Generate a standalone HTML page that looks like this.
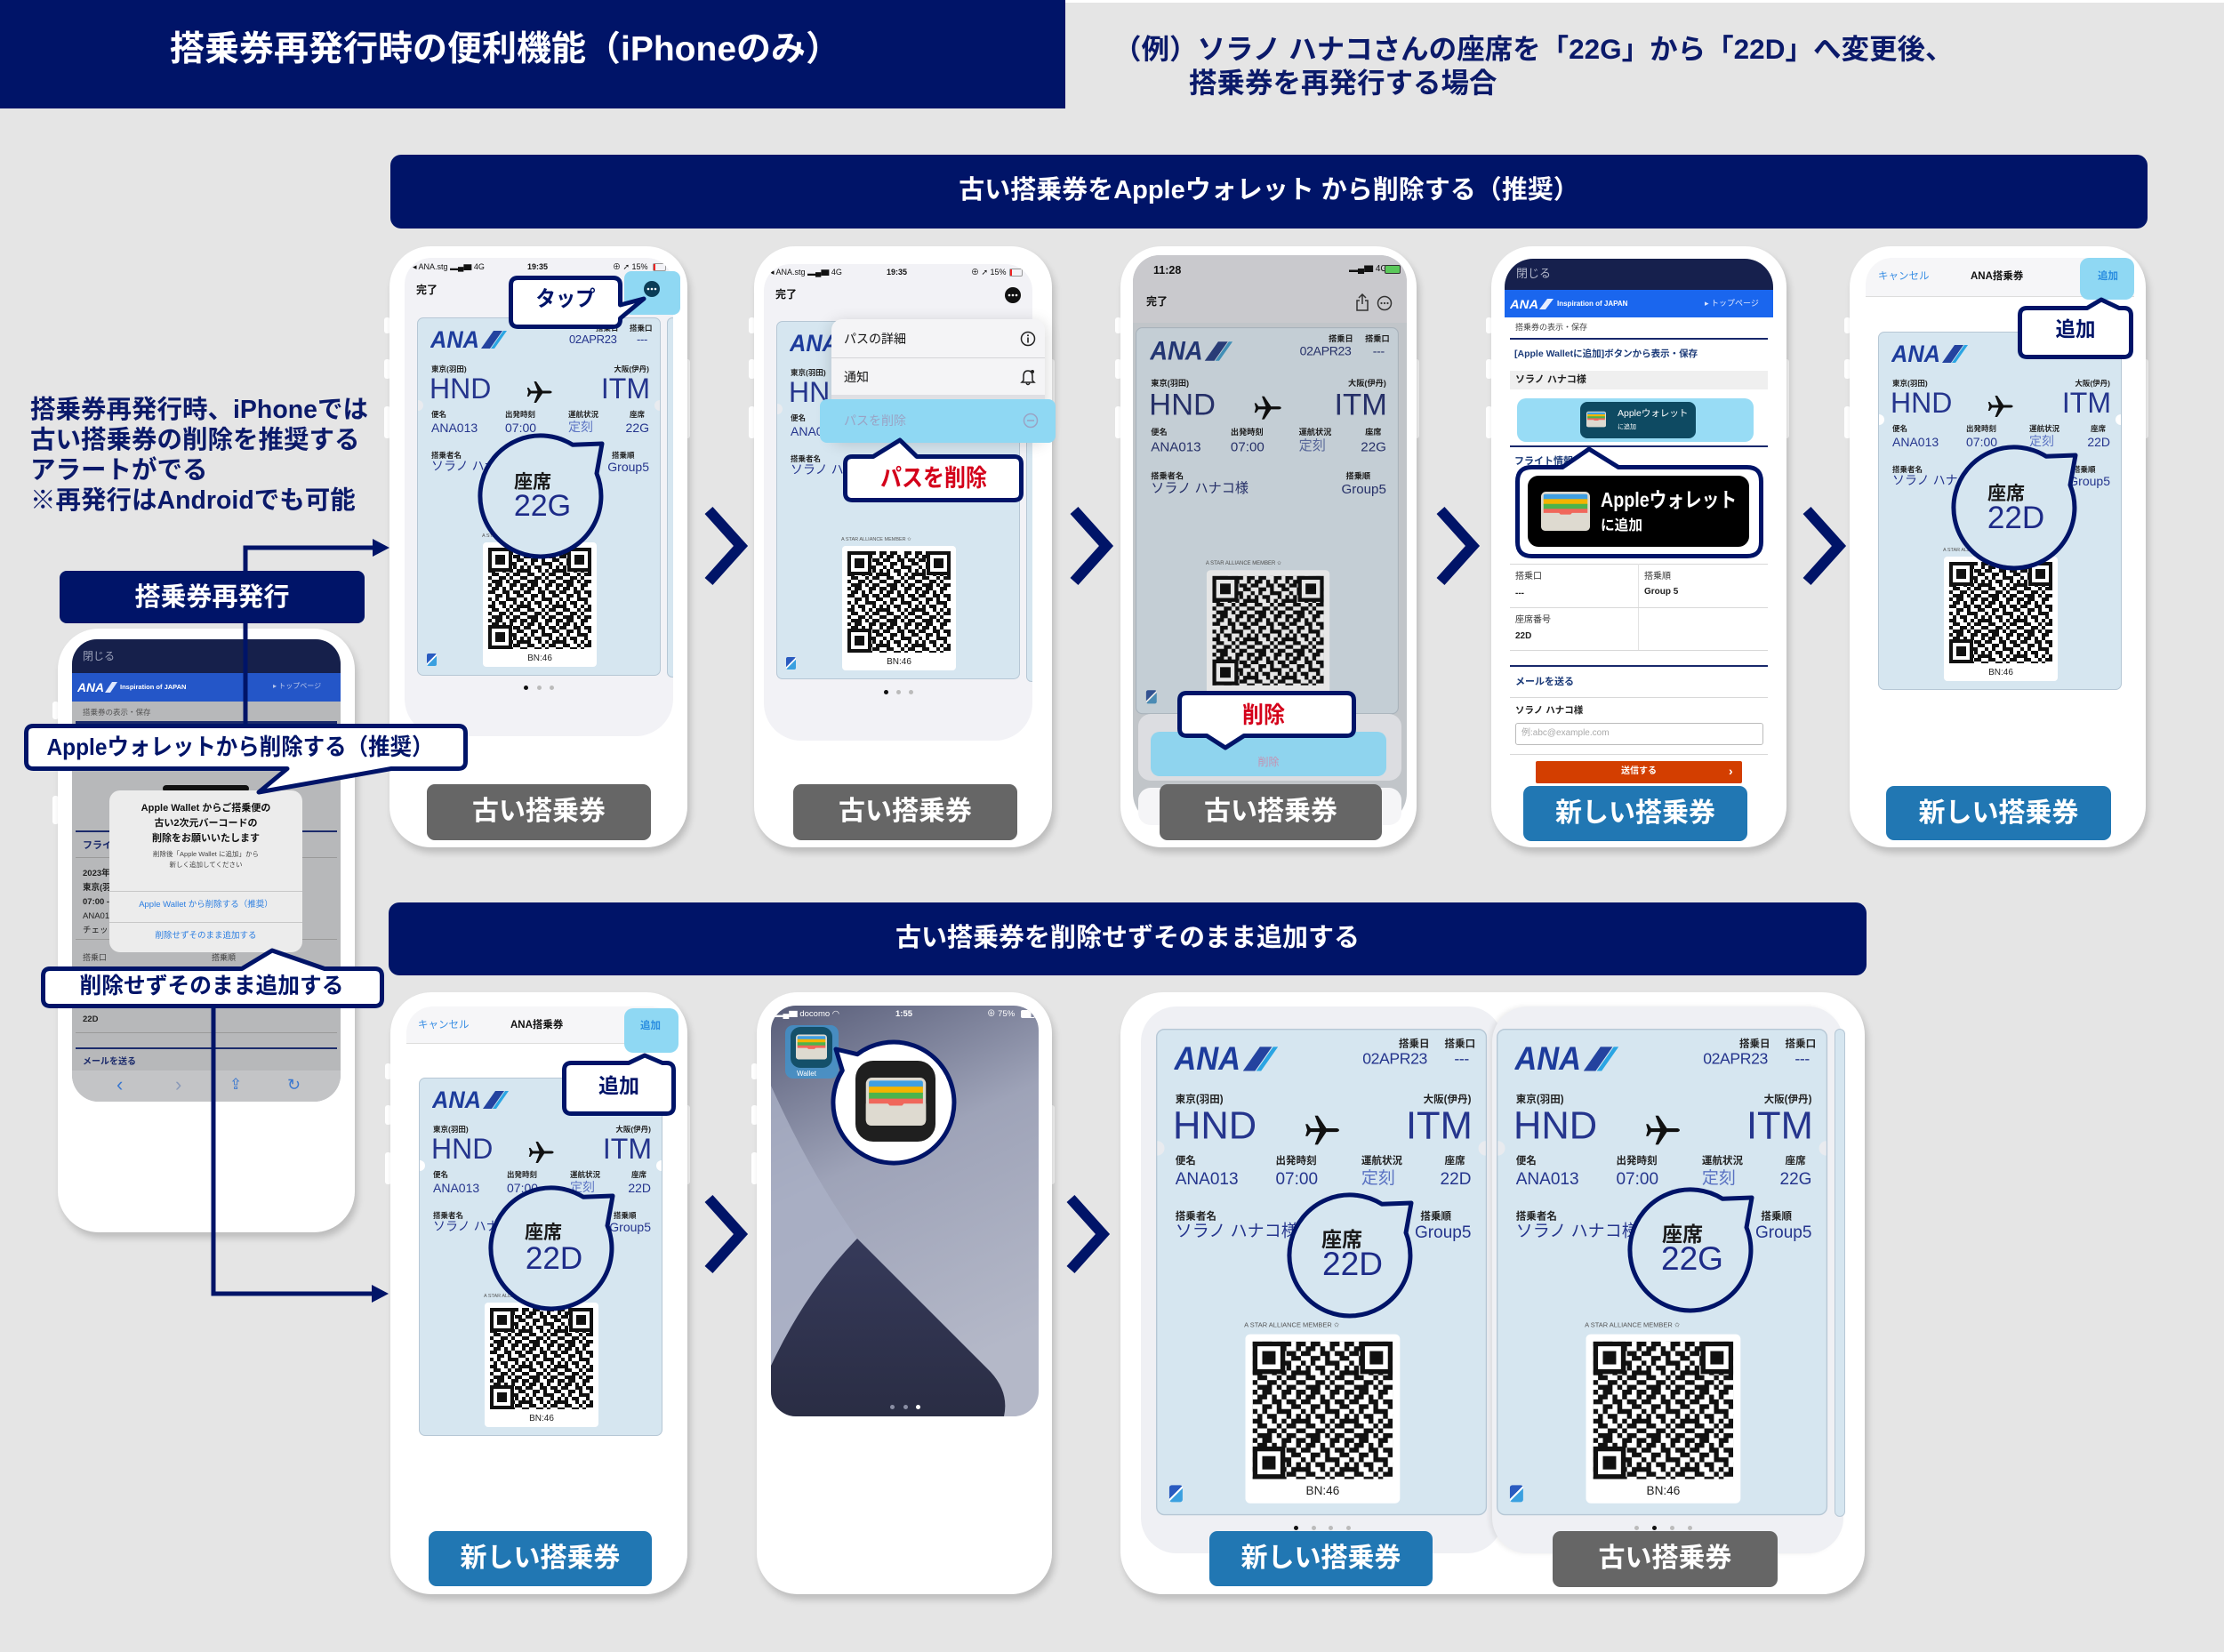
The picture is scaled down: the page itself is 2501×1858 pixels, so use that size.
<!DOCTYPE html>
<html><head><meta charset="utf-8"><style>
body{margin:0;background:#e5e5e5}
#r{position:relative;width:2501px;height:1858px;background:#e5e5e5;overflow:hidden;font-family:"Liberation Sans","Noto Sans CJK JP",sans-serif}
.a{position:absolute}
.t{position:absolute;white-space:nowrap;line-height:1}
.b{font-weight:bold}
.ph{position:absolute;background:#fff;border-radius:46px;box-shadow:3px 6px 8px rgba(0,0,0,.18)}
.tb{position:absolute;background:#fff;width:7px;border-radius:3px}
.scr{position:absolute;overflow:hidden}
.btn{position:absolute;border-radius:9px;color:#fff;font-weight:bold;font-size:30px;text-align:center;line-height:62px;height:62px;width:252px}
.gr{background:#666}
.bl{background:#2177b3}
.card{position:absolute;width:274px;height:403px;background:#d6e6f0;border:1px solid #b6c7d5;box-sizing:border-box;border-radius:7px;transform-origin:0 0;overflow:hidden;color:#25358d}
.lb{font-size:8.5px;font-weight:bold;color:#222}
.dt{font-size:13px;letter-spacing:-.3px}
.bg{font-size:32px}
.v{font-size:14px}
.qb{position:absolute;left:73px;top:252px;width:128px;height:140px;background:#fff;border-radius:4px}
.nt{position:absolute;top:92px;width:12px;height:12px;border-radius:6px;background:#e9ebef}
.tl{position:absolute;left:10px;top:377px;width:11px;height:14px;background:linear-gradient(135deg,#2a5bc0 0 45%,#fff 45% 55%,#3aa0e0 55%);border-radius:2px}
.dot{position:absolute;width:5px;height:5px;border-radius:3px;background:#bbb}
.hl{position:absolute;background:#8fd8f3;border-radius:9px}
.ov text{font-family:"Liberation Sans","Noto Sans CJK JP",sans-serif;font-weight:bold}
.ov text.n{font-weight:normal}
.ln{position:absolute;height:1px;background:#d8d8d8}
</style></head><body><div id="r">

<svg width="0" height="0" style="position:absolute">
<defs>
<pattern id="qrp" width="40" height="40" patternUnits="userSpaceOnUse"><rect width="40" height="40" fill="#fff"/><path fill="#111" d="M0 0h4v4h-4z M8 0h8v4h-8z M24 0h8v4h-8z M36 0h4v4h-4z M4 4h8v4h-8z M16 4h4v4h-4z M24 4h4v4h-4z M36 4h4v4h-4z M0 8h8v4h-8z M16 8h8v4h-8z M28 8h8v4h-8z M8 12h8v4h-8z M20 12h4v4h-4z M32 12h8v4h-8z M0 16h4v4h-4z M8 16h4v4h-4z M20 16h12v4h-12z M4 20h4v4h-4z M12 20h8v4h-8z M28 20h4v4h-4z M36 20h4v4h-4z M0 24h8v4h-8z M16 24h4v4h-4z M24 24h4v4h-4z M32 24h8v4h-8z M4 28h8v4h-8z M20 28h4v4h-4z M28 28h8v4h-8z M0 32h4v4h-4z M12 32h8v4h-8z M24 32h4v4h-4z M36 32h4v4h-4z M4 36h12v4h-12z M20 36h4v4h-4z M28 36h8v4h-8z"/></pattern>
<symbol id="qr" viewBox="0 0 116 114"><rect width="116" height="114" fill="url(#qrp)"/>
<g><rect x="0" y="0" width="27" height="27" fill="#111"/><rect x="4" y="4" width="19" height="19" fill="#fff"/><rect x="8" y="8" width="11" height="11" fill="#111"/></g>
<g><rect x="89" y="0" width="27" height="27" fill="#111"/><rect x="93" y="4" width="19" height="19" fill="#fff"/><rect x="97" y="8" width="11" height="11" fill="#111"/></g>
<g><rect x="0" y="87" width="27" height="27" fill="#111"/><rect x="4" y="91" width="19" height="19" fill="#fff"/><rect x="8" y="95" width="11" height="11" fill="#111"/></g>
</symbol>
<symbol id="pl" viewBox="0 0 30 30"><path fill="#111" d="M26 13.5 C29.5 13.5 29.5 16.5 26 16.5 L18 16.5 L11 27 L8.5 27 L12.5 16.5 L5 16.5 L2.5 20 L0.8 20 L2.2 15 L0.8 10 L2.5 10 L5 13.5 L12.5 13.5 L8.5 3 L11 3 L18 13.5 Z"/></symbol>
<symbol id="wal" viewBox="0 0 60 48"><rect x="0" y="0" width="60" height="48" rx="6" fill="#dedad0"/><rect x="3" y="3" width="54" height="9" rx="2" fill="#3f9fe2"/><rect x="3" y="9" width="54" height="7" fill="#f4b400"/><rect x="3" y="15" width="54" height="7" fill="#4db34d"/><rect x="3" y="21" width="54" height="7" fill="#f0675b"/><path d="M0 26 H22 Q30 36 38 26 H60 V42 Q60 48 54 48 H6 Q0 48 0 42 Z" fill="#dedad0"/></symbol>
</defs></svg>

<!-- HEADER -->
<div class="a" style="left:0;top:0;width:1198px;height:122px;background:#001468"></div>
<div class="a" style="left:1198px;top:0;width:1303px;height:3px;background:#fff"></div>
<div class="t b" style="left:191px;top:36px;font-size:39px;color:#fff">搭乗券再発行時の便利機能（iPhoneのみ）</div>
<div class="t b" style="left:1252px;top:40px;font-size:31.5px;color:#0b1a6a">（例）ソラノ ハナコさんの座席を「22G」から「22D」へ変更後、</div>
<div class="t b" style="left:1337px;top:78px;font-size:31.5px;color:#0b1a6a">搭乗券を再発行する場合</div>

<!-- BANNERS -->
<div class="a b" style="left:439px;top:174px;width:1976px;height:83px;background:#001468;border-radius:12px;color:#fff;font-size:29px;line-height:80px;text-align:center">古い搭乗券をAppleウォレット から削除する（推奨）</div>
<div class="a b" style="left:437px;top:1015px;width:1662px;height:82px;background:#001468;border-radius:12px;color:#fff;font-size:29px;line-height:80px;text-align:center">古い搭乗券を削除せずそのまま追加する</div>

<!-- LEFT TEXT -->
<div class="a b" style="left:34px;top:444px;font-size:28.5px;line-height:34px;color:#0b1a6a;white-space:nowrap">搭乗券再発行時、iPhoneでは<br>古い搭乗券の削除を推奨する<br>アラートがでる<br>※再発行はAndroidでも可能</div>

<!-- LEFT PHONE -->
<div class="tb" style="left:59px;top:789px;height:20px"></div>
<div class="tb" style="left:59px;top:895px;height:32px"></div>
<div class="ph" style="left:65px;top:707px;width:334px;height:679px"></div>
<div class="scr" style="left:81px;top:719px;width:302px;height:520px;border-radius:28px 28px 30px 30px;background:#b7b8ba">
 <div class="a" style="left:0;top:0;width:302px;height:38px;background:#16204b"></div>
 <div class="t" style="left:12px;top:13px;font-size:12px;color:#9aa0b8">閉じる</div>
 <div class="a" style="left:0;top:38px;width:302px;height:32px;background:#2456c8"></div>
 <svg class="t" style="left:6px;top:47px" width="46" height="14"><text x="0" y="12" font-family="Liberation Sans" font-weight="bold" font-style="italic" font-size="14" fill="#fff" textLength="30" lengthAdjust="spacingAndGlyphs">ANA</text><polygon points="31,13 37,13 45,1 39,1" fill="#dfe8ff"/></svg>
 <div class="t b" style="left:54px;top:50px;font-size:7.5px;color:#fff">Inspiration of JAPAN</div>
 <div class="t" style="left:226px;top:49px;font-size:8px;color:#b8c6ea">▸ トップページ</div>
 <div class="t" style="left:12px;top:78px;font-size:8.5px;color:#555">搭乗券の表示・保存</div>
 <div class="a" style="left:4px;top:92px;width:294px;height:3px;background:#1c2b6b"></div>
 <div class="a" style="left:102px;top:164px;width:97px;height:8px;background:#111;border-radius:4px"></div>
 <div class="a" style="left:4px;top:215px;width:294px;height:2px;background:#1c2b6b"></div>
 <div class="t b" style="left:12px;top:227px;font-size:11px;color:#1c2b6b">フライ</div>
 <div class="a" style="left:4px;top:245px;width:294px;height:1px;background:#9a9a9a"></div>
 <div class="t b" style="left:12px;top:259px;font-size:9.5px;color:#222">2023年</div>
 <div class="t b" style="left:12px;top:275px;font-size:9.5px;color:#222">東京(羽</div>
 <div class="t b" style="left:12px;top:291px;font-size:9.5px;color:#222">07:00 -</div>
 <div class="t" style="left:12px;top:307px;font-size:9.5px;color:#222">ANA01</div>
 <div class="t" style="left:12px;top:323px;font-size:9.5px;color:#222">チェッ</div>
 <div class="a" style="left:4px;top:337px;width:294px;height:1px;background:#9a9a9a"></div>
 <div class="t" style="left:12px;top:354px;font-size:9px;color:#444">搭乗口</div>
 <div class="t" style="left:157px;top:354px;font-size:9px;color:#444">搭乗順</div>
 <div class="t b" style="left:12px;top:423px;font-size:9.5px;color:#222">22D</div>
 <div class="a" style="left:4px;top:442px;width:294px;height:1px;background:#9a9a9a"></div>
 <div class="a" style="left:4px;top:459px;width:294px;height:2px;background:#1c2b6b"></div>
 <div class="t b" style="left:12px;top:471px;font-size:10px;color:#1c2b6b">メールを送る</div>
 <div class="a" style="left:0;top:485px;width:302px;height:35px;background:#c3c4c6"></div>
 <div class="t" style="left:50px;top:490px;font-size:22px;color:#3a78d0">‹</div>
 <div class="t" style="left:116px;top:490px;font-size:22px;color:#8a9ab8">›</div>
 <div class="t" style="left:177px;top:492px;font-size:17px;color:#3a78d0">⇪</div>
 <div class="t" style="left:242px;top:492px;font-size:18px;color:#3a78d0">↻</div>
 <div class="a" style="left:42px;top:170px;width:217px;height:182px;background:#ececec;border-radius:12px">
  <div class="t b" style="left:0;width:217px;text-align:center;top:15px;font-size:11px;color:#111">Apple Wallet からご搭乗便の</div>
  <div class="t b" style="left:0;width:217px;text-align:center;top:32px;font-size:11px;color:#111">古い2次元バーコードの</div>
  <div class="t b" style="left:0;width:217px;text-align:center;top:49px;font-size:11px;color:#111">削除をお願いいたします</div>
  <div class="t" style="left:0;width:217px;text-align:center;top:68px;font-size:7.5px;color:#444">削除後「Apple Wallet に追加」から</div>
  <div class="t" style="left:0;width:217px;text-align:center;top:80px;font-size:7.5px;color:#444">新しく追加してください</div>
  <div class="a" style="left:0;top:113px;width:217px;height:1px;background:#c8c8c8"></div>
  <div class="t" style="left:0;width:217px;text-align:center;top:124px;font-size:9.5px;color:#2a7de1">Apple Wallet から削除する（推奨）</div>
  <div class="a" style="left:0;top:148px;width:217px;height:1px;background:#c8c8c8"></div>
  <div class="t" style="left:0;width:217px;text-align:center;top:159px;font-size:9.5px;color:#2a7de1">削除せずそのまま追加する</div>
 </div>
</div>

<!-- ROW1 PHONE 1 -->
<div class="tb" style="left:432px;top:357px;height:18px"></div>
<div class="tb" style="left:432px;top:404px;height:22px"></div>
<div class="tb" style="left:432px;top:457px;height:36px"></div>
<div class="tb" style="left:769px;top:404px;height:89px"></div>
<div class="ph" style="left:438px;top:277px;width:335px;height:676px"></div>
<div class="scr" style="left:455px;top:290px;width:302px;height:538px;border-radius:30px 30px 42px 42px;background:#f2f2f6">
 <div class="t" style="left:9px;top:6px;font-size:9px;color:#111">◂ ANA.stg ▂▄▆ 4G</div>
 <div class="t b" style="left:138px;top:6px;font-size:9px;color:#111">19:35</div>
 <div class="t" style="left:234px;top:6px;font-size:9px;color:#111">⊕ ➚ 15%</div>
 <div class="a" style="left:279px;top:6px;width:13px;height:7px;border:1px solid #999;border-radius:2px"><div class="a" style="left:0;top:0;width:2px;height:7px;background:#e22"></div></div>
 <div class="t b" style="left:13px;top:30px;font-size:12px;color:#111">完了</div>
 <div class="a" style="left:295px;top:67px;width:10px;height:403px;background:#d6e6f0;border:1px solid #b6c7d5;border-radius:6px"></div>
</div>
<div class="hl" style="left:702px;top:305px;width:63px;height:49px;border-radius:8px"></div>
<svg class="a" style="left:723px;top:315px" width="20" height="20"><circle cx="10" cy="10" r="9" fill="#0b3d57"/><circle cx="6" cy="10" r="1.3" fill="#fff"/><circle cx="10" cy="10" r="1.3" fill="#fff"/><circle cx="14" cy="10" r="1.3" fill="#fff"/></svg>
<div class="dot" style="left:589px;top:771px;background:#111"></div><div class="dot" style="left:604px;top:771px"></div><div class="dot" style="left:618px;top:771px"></div>
<div class="btn gr" style="left:480px;top:882px;height:63px">古い搭乗券</div>

<!-- ROW1 PHONE 2 -->
<div class="tb" style="left:842px;top:357px;height:18px"></div>
<div class="tb" style="left:842px;top:404px;height:22px"></div>
<div class="tb" style="left:842px;top:457px;height:36px"></div>
<div class="tb" style="left:1179px;top:404px;height:89px"></div>
<div class="ph" style="left:848px;top:277px;width:335px;height:676px"></div>
<div class="scr" style="left:859px;top:297px;width:302px;height:536px;border-radius:30px 30px 42px 42px;background:#f2f2f6">
 <div class="t" style="left:7px;top:5px;font-size:9px;color:#111">◂ ANA.stg ▂▄▆ 4G</div>
 <div class="t b" style="left:138px;top:5px;font-size:9px;color:#111">19:35</div>
 <div class="t" style="left:233px;top:5px;font-size:9px;color:#111">⊕ ➚ 15%</div>
 <div class="a" style="left:276px;top:5px;width:13px;height:7px;border:1px solid #999;border-radius:2px"><div class="a" style="left:0;top:0;width:2px;height:7px;background:#e22"></div></div>
 <div class="t b" style="left:13px;top:28px;font-size:12px;color:#111">完了</div>
 <svg class="a" style="left:270px;top:25px" width="20" height="20"><circle cx="10" cy="10" r="9" fill="#111"/><circle cx="6" cy="10" r="1.3" fill="#fff"/><circle cx="10" cy="10" r="1.3" fill="#fff"/><circle cx="14" cy="10" r="1.3" fill="#fff"/></svg>
 <div class="a" style="left:295px;top:64px;width:10px;height:404px;background:#d6e6f0;border:1px solid #b6c7d5;border-radius:6px"></div>
</div>
<div class="dot" style="left:994px;top:776px;background:#111"></div><div class="dot" style="left:1008px;top:776px"></div><div class="dot" style="left:1022px;top:776px"></div>
<div class="btn gr" style="left:892px;top:882px;height:63px">古い搭乗券</div>

<!-- ROW1 PHONE 3 -->
<div class="tb" style="left:1254px;top:357px;height:18px"></div>
<div class="tb" style="left:1254px;top:404px;height:22px"></div>
<div class="tb" style="left:1254px;top:457px;height:36px"></div>
<div class="tb" style="left:1589px;top:404px;height:89px"></div>
<div class="ph" style="left:1260px;top:277px;width:333px;height:676px"></div>
<div class="scr" style="left:1274px;top:287px;width:308px;height:641px;border-radius:30px 30px 36px 36px;background:#c1c5c9">
 <div class="a" style="left:0;top:0;width:308px;height:76px;background:#c9c9cd"></div>
 <div class="t b" style="left:23px;top:11px;font-size:12.5px;color:#111">11:28</div>
 <div class="t" style="left:243px;top:11px;font-size:10px;color:#111">▂▄▆ 4G</div>
 <div class="a" style="left:283px;top:11px;width:16px;height:8px;border:1px solid #333;border-radius:2px;background:#5ac85a"></div>
 <div class="t b" style="left:15px;top:46px;font-size:12px;color:#111">完了</div>
 <svg class="a" style="left:250px;top:42px" width="16" height="22"><path d="M8 2 V13 M4 6 L8 2 L12 6 M5 9 H2 V20 H14 V9 H11" fill="none" stroke="#333" stroke-width="1.5"/></svg>
 <svg class="a" style="left:274px;top:45px" width="18" height="18"><circle cx="9" cy="9" r="7.5" fill="none" stroke="#333" stroke-width="1.5"/><circle cx="5.5" cy="9" r="1.1" fill="#333"/><circle cx="9" cy="9" r="1.1" fill="#333"/><circle cx="12.5" cy="9" r="1.1" fill="#333"/></svg>
</div>

<!-- ROW1 PHONE 4 -->
<div class="tb" style="left:1671px;top:357px;height:18px"></div>
<div class="tb" style="left:1671px;top:404px;height:22px"></div>
<div class="tb" style="left:1671px;top:457px;height:36px"></div>
<div class="tb" style="left:2005px;top:404px;height:89px"></div>
<div class="ph" style="left:1677px;top:277px;width:332px;height:676px"></div>
<div class="scr" style="left:1692px;top:291px;width:302px;height:639px;border-radius:32px 32px 40px 40px;background:#fff">
 <div class="a" style="left:0;top:0;width:302px;height:35px;background:#16204d"></div>
 <div class="t" style="left:13px;top:10px;font-size:13px;color:#b0b5c8">閉じる</div>
 <div class="a" style="left:0;top:35px;width:302px;height:31px;background:#1a66ee"></div>
 <svg class="t" style="left:6px;top:44px" width="50" height="14"><text x="0" y="12" font-family="Liberation Sans" font-weight="bold" font-style="italic" font-size="14" fill="#fff" textLength="32" lengthAdjust="spacingAndGlyphs">ANA</text><polygon points="33,13 40,13 49,1 42,1" fill="#e6eeff"/></svg>
 <div class="t b" style="left:59px;top:47px;font-size:8px;color:#fff">Inspiration of JAPAN</div>
 <div class="t" style="left:225px;top:46px;font-size:9px;color:#dde6ff">▸ トップページ</div>
 <div class="t" style="left:12px;top:73px;font-size:9px;color:#444">搭乗券の表示・保存</div>
 <div class="a" style="left:6px;top:89px;width:290px;height:2px;background:#18286b"></div>
 <div class="t b" style="left:11px;top:102px;font-size:10.5px;color:#1b3a78">[Apple Walletに追加]ボタンから表示・保存</div>
 <div class="a" style="left:6px;top:126px;width:290px;height:21px;background:#efefef"></div>
 <div class="t b" style="left:12px;top:131px;font-size:11px;color:#222">ソラノ ハナコ様</div>
 <div class="a" style="left:14px;top:157px;width:266px;height:49px;background:#98dcf5;border-radius:10px"></div>
 <div class="a" style="left:85px;top:161px;width:130px;height:41px;background:#0e4a62;border-radius:8px"></div>
 <svg class="a" style="left:92px;top:171px" width="22" height="19"><use href="#wal" width="22" height="19"/></svg>
 <div class="t" style="left:127px;top:169px;font-size:10.5px;color:#fff">Appleウォレット</div>
 <div class="t" style="left:127px;top:186px;font-size:7px;color:#fff">に追加</div>
 <div class="a" style="left:6px;top:210px;width:290px;height:2px;background:#18286b"></div>
 <div class="t b" style="left:11px;top:223px;font-size:11px;color:#1b3a78">フライト情報</div>
 <div class="ln" style="left:6px;top:343px;width:290px"></div>
 <div class="t" style="left:12px;top:353px;font-size:10px;color:#333">搭乗口</div>
 <div class="t b" style="left:12px;top:372px;font-size:10px;color:#222">---</div>
 <div class="t" style="left:157px;top:353px;font-size:10px;color:#333">搭乗順</div>
 <div class="t b" style="left:157px;top:370px;font-size:10px;color:#222">Group 5</div>
 <div class="a" style="left:150px;top:343px;width:1px;height:98px;background:#e3e3e3"></div>
 <div class="ln" style="left:6px;top:392px;width:290px"></div>
 <div class="t" style="left:12px;top:402px;font-size:10px;color:#333">座席番号</div>
 <div class="t b" style="left:12px;top:420px;font-size:10px;color:#222">22D</div>
 <div class="ln" style="left:6px;top:440px;width:290px"></div>
 <div class="a" style="left:6px;top:457px;width:290px;height:2px;background:#18286b"></div>
 <div class="t b" style="left:12px;top:471px;font-size:11px;color:#1b3a78">メールを送る</div>
 <div class="ln" style="left:6px;top:493px;width:290px"></div>
 <div class="t b" style="left:12px;top:503px;font-size:10.5px;color:#222">ソラノ ハナコ様</div>
 <div class="a" style="left:12px;top:522px;width:277px;height:23px;border:1px solid #bbb;border-radius:3px"></div>
 <div class="t" style="left:19px;top:529px;font-size:10px;color:#aaa">例:abc@example.com</div>
 <div class="ln" style="left:6px;top:557px;width:290px"></div>
 <div class="a" style="left:35px;top:565px;width:232px;height:25px;background:#d33e00;border-radius:2px"></div>
 <div class="t b" style="left:35px;width:232px;text-align:center;top:572px;font-size:10px;color:#fff">送信する</div>
 <div class="t b" style="left:252px;top:569px;font-size:14px;color:#fff">›</div>
</div>
<div class="btn bl" style="left:1713px;top:884px">新しい搭乗券</div>

<!-- ROW1 PHONE 5 -->
<div class="tb" style="left:2074px;top:357px;height:18px"></div>
<div class="tb" style="left:2074px;top:404px;height:22px"></div>
<div class="tb" style="left:2074px;top:457px;height:36px"></div>
<div class="tb" style="left:2409px;top:404px;height:89px"></div>
<div class="ph" style="left:2080px;top:277px;width:333px;height:676px"></div>
<div class="scr" style="left:2098px;top:290px;width:302px;height:560px;border-radius:30px 30px 0 0;background:#fff">
 <div class="a" style="left:0;top:0;width:302px;height:43px;background:#f6f6f8;border-bottom:1px solid #ddd"></div>
 <div class="t" style="left:14px;top:16px;font-size:11.5px;color:#3b8fe4">キャンセル</div>
 <div class="t b" style="left:118px;top:16px;font-size:11.5px;color:#111">ANA搭乗券</div>
</div>
<div class="hl" style="left:2339px;top:290px;width:61px;height:47px;border-radius:10px"></div>
<div class="t b" style="left:2359px;top:306px;font-size:11.5px;color:#2a8de0">追加</div>
<div class="btn bl" style="left:2121px;top:884px;height:61px;width:253px">新しい搭乗券</div>

<!-- ROW2 PHONE A -->
<div class="tb" style="left:433px;top:1196px;height:18px"></div>
<div class="tb" style="left:433px;top:1243px;height:22px"></div>
<div class="tb" style="left:433px;top:1296px;height:36px"></div>
<div class="tb" style="left:769px;top:1243px;height:89px"></div>
<div class="ph" style="left:439px;top:1116px;width:334px;height:677px"></div>
<div class="scr" style="left:457px;top:1132px;width:305px;height:560px;border-radius:30px 30px 0 0;background:#fff">
 <div class="a" style="left:0;top:0;width:305px;height:41px;background:#f6f6f8;border-bottom:1px solid #ddd"></div>
 <div class="t" style="left:13px;top:16px;font-size:11.5px;color:#3b8fe4">キャンセル</div>
 <div class="t b" style="left:117px;top:16px;font-size:11.5px;color:#111">ANA搭乗券</div>
</div>
<div class="hl" style="left:702px;top:1134px;width:61px;height:50px;border-radius:10px"></div>
<div class="t b" style="left:720px;top:1149px;font-size:11.5px;color:#2a8de0">追加</div>
<div class="btn bl" style="left:482px;top:1722px;width:251px">新しい搭乗券</div>

<!-- ROW2 PHONE B -->
<div class="tb" style="left:845px;top:1196px;height:18px"></div>
<div class="tb" style="left:845px;top:1243px;height:22px"></div>
<div class="tb" style="left:845px;top:1296px;height:36px"></div>
<div class="tb" style="left:1179px;top:1243px;height:89px"></div>
<div class="ph" style="left:851px;top:1116px;width:332px;height:677px"></div>
<div class="scr" style="left:867px;top:1131px;width:301px;height:462px;border-radius:28px">
 <svg width="301" height="462" style="position:absolute;left:0;top:0">
  <defs><linearGradient id="wg" x1="0" y1="0" x2="0.3" y2="1"><stop offset="0" stop-color="#575c78"/><stop offset=".45" stop-color="#9ea3b8"/><stop offset="1" stop-color="#b4b8c8"/></linearGradient>
  <linearGradient id="dg" x1="0" y1="0" x2="0" y2="1"><stop offset="0" stop-color="#363a5a"/><stop offset="1" stop-color="#2a2d44"/></linearGradient></defs>
  <rect width="301" height="462" fill="url(#wg)"/>
  <path d="M0 90 Q45 190 97 262 L0 405 Z" fill="#aab0c6" opacity=".8"/>
  <path d="M97 262 L247 412 Q268 435 262 462 L0 462 L0 405 Q40 320 97 262 Z" fill="url(#dg)"/>
 </svg>
 <div class="t" style="left:4px;top:5px;font-size:9.5px;color:#fff">▂▄▆ docomo ◠</div>
 <div class="t b" style="left:140px;top:5px;font-size:9.5px;color:#fff">1:55</div>
 <div class="t" style="left:243px;top:5px;font-size:9.5px;color:#fff">⊕ 75%</div>
 <div class="a" style="left:281px;top:5px;width:14px;height:7px;border:1px solid #fff;border-radius:2px;background:linear-gradient(90deg,#fff 75%,transparent 75%)"></div>
 <div class="dot" style="left:134px;top:449px;background:#8a8ea4"></div><div class="dot" style="left:149px;top:449px;background:#8a8ea4"></div><div class="dot" style="left:163px;top:449px;background:#fff"></div>
</div>
<div class="a" style="left:883px;top:1153px;width:60px;height:60px;background:rgba(60,150,210,.75);border-radius:9px"></div>
<div class="a" style="left:889px;top:1155px;width:47px;height:46px;background:#14506a;border-radius:11px"></div>
<svg class="a" style="left:895px;top:1163px" width="35" height="29"><use href="#wal" width="35" height="29"/></svg>
<div class="t" style="left:896px;top:1204px;font-size:8px;color:#fff">Wallet</div>

<!-- ROW2 BIG -->
<div class="ph" style="left:1260px;top:1116px;width:837px;height:677px;border-radius:48px"></div>
<div class="a" style="left:1283px;top:1132px;width:407px;height:615px;background:#eff0f4;border-radius:40px"></div>
<div class="a" style="left:1678px;top:1132px;width:395px;height:615px;background:#eff0f4;border-radius:40px;box-shadow:-3px 0 6px rgba(0,0,0,.08)"></div>
<div class="a" style="left:2063px;top:1157px;width:10px;height:547px;background:#d6e6f0;border:1px solid #b6c7d5;border-radius:6px"></div>
<div class="dot" style="left:1455px;top:1716px;background:#111"></div><div class="dot" style="left:1475px;top:1716px"></div><div class="dot" style="left:1494px;top:1716px"></div><div class="dot" style="left:1514px;top:1716px"></div>
<div class="dot" style="left:1838px;top:1716px"></div><div class="dot" style="left:1858px;top:1716px;background:#111"></div><div class="dot" style="left:1878px;top:1716px"></div><div class="dot" style="left:1898px;top:1716px"></div>

<!-- CARDS -->
<div class="card" style="left:469px;top:357px">
<svg class="t" style="left:14px;top:13px" width="88" height="22"><text x="0" y="20" font-family="Liberation Sans" font-weight="bold" font-style="italic" font-size="27" fill="#1d3c9c" textLength="55" lengthAdjust="spacingAndGlyphs">ANA</text><polygon points="57,21 67,21 81,1 71,1" fill="#24439f"/><polygon points="68,21 72,21 86,1 82,1" fill="#2aa5e3"/></svg>
<div class="t lb" style="left:200px;top:7px">搭乗日</div><div class="t dt" style="left:170px;top:17px">02APR23</div><div class="t lb" style="left:238px;top:7px">搭乗口</div><div class="t dt" style="left:246px;top:17px">---</div>
<div class="t lb" style="left:15px;top:53px">東京(羽田)</div><div class="t lb" style="right:12px;top:53px">大阪(伊丹)</div>
<div class="t bg" style="left:13px;top:63px">HND</div><svg class="t" style="left:122px;top:68px" width="30" height="30"><use href="#pl" width="30" height="30"/></svg><div class="t bg" style="right:11px;top:63px">ITM</div>
<div class="t lb" style="left:15px;top:104px">便名</div><div class="t lb" style="left:98px;top:104px">出発時刻</div><div class="t lb" style="left:169px;top:104px">運航状況</div><div class="t lb" style="left:238px;top:104px">座席</div>
<div class="t v" style="left:15px;top:116px">ANA013</div><div class="t v" style="left:98px;top:116px">07:00</div><div class="t v" style="left:169px;top:115px;color:#5a72c2">定刻</div><div class="t v" style="right:12px;top:116px">22G</div>
<div class="t lb" style="left:15px;top:150px">搭乗者名</div><div class="t lb" style="left:218px;top:150px">搭乗順</div><div class="t v" style="left:15px;top:159px">ソラノ ハナコ様</div><div class="t v" style="right:12px;top:160px">Group5</div>
<div class="t" style="left:72px;top:243px;font-size:5.5px;color:#555">A STAR ALLIANCE MEMBER ✩</div>
<div class="qb"><svg class="a" style="left:6px;top:6px" width="116" height="114"><use href="#qr" width="116" height="114"/></svg><div class="t" style="left:0;width:128px;text-align:center;top:126px;font-size:10px;color:#222">BN:46</div></div>
<div class="tl"></div><div class="nt" style="left:-6px"></div><div class="nt" style="right:-6px"></div>
</div>

<div class="card" style="left:873px;top:361px">
<svg class="t" style="left:14px;top:13px" width="88" height="22"><text x="0" y="20" font-family="Liberation Sans" font-weight="bold" font-style="italic" font-size="27" fill="#1d3c9c" textLength="55" lengthAdjust="spacingAndGlyphs">ANA</text><polygon points="57,21 67,21 81,1 71,1" fill="#24439f"/><polygon points="68,21 72,21 86,1 82,1" fill="#2aa5e3"/></svg>
<div class="t lb" style="left:200px;top:7px">搭乗日</div><div class="t dt" style="left:170px;top:17px">02APR23</div><div class="t lb" style="left:238px;top:7px">搭乗口</div><div class="t dt" style="left:246px;top:17px">---</div>
<div class="t lb" style="left:15px;top:53px">東京(羽田)</div><div class="t lb" style="right:12px;top:53px">大阪(伊丹)</div>
<div class="t bg" style="left:13px;top:63px">HND</div><svg class="t" style="left:122px;top:68px" width="30" height="30"><use href="#pl" width="30" height="30"/></svg><div class="t bg" style="right:11px;top:63px">ITM</div>
<div class="t lb" style="left:15px;top:104px">便名</div><div class="t lb" style="left:98px;top:104px">出発時刻</div><div class="t lb" style="left:169px;top:104px">運航状況</div><div class="t lb" style="left:238px;top:104px">座席</div>
<div class="t v" style="left:15px;top:116px">ANA013</div><div class="t v" style="left:98px;top:116px">07:00</div><div class="t v" style="left:169px;top:115px;color:#5a72c2">定刻</div><div class="t v" style="right:12px;top:116px">22G</div>
<div class="t lb" style="left:15px;top:150px">搭乗者名</div><div class="t lb" style="left:218px;top:150px">搭乗順</div><div class="t v" style="left:15px;top:159px">ソラノ ハナコ様</div><div class="t v" style="right:12px;top:160px">Group5</div>
<div class="t" style="left:72px;top:243px;font-size:5.5px;color:#555">A STAR ALLIANCE MEMBER ✩</div>
<div class="qb"><svg class="a" style="left:6px;top:6px" width="116" height="114"><use href="#qr" width="116" height="114"/></svg><div class="t" style="left:0;width:128px;text-align:center;top:126px;font-size:10px;color:#222">BN:46</div></div>
<div class="tl"></div><div class="nt" style="left:-6px"></div><div class="nt" style="right:-6px"></div>
</div>

<div class="card" style="left:1277px;top:368px;transform:scale(1.08);filter:brightness(.9) saturate(.7)">
<svg class="t" style="left:14px;top:13px" width="88" height="22"><text x="0" y="20" font-family="Liberation Sans" font-weight="bold" font-style="italic" font-size="27" fill="#1d3c9c" textLength="55" lengthAdjust="spacingAndGlyphs">ANA</text><polygon points="57,21 67,21 81,1 71,1" fill="#24439f"/><polygon points="68,21 72,21 86,1 82,1" fill="#2aa5e3"/></svg>
<div class="t lb" style="left:200px;top:7px">搭乗日</div><div class="t dt" style="left:170px;top:17px">02APR23</div><div class="t lb" style="left:238px;top:7px">搭乗口</div><div class="t dt" style="left:246px;top:17px">---</div>
<div class="t lb" style="left:15px;top:53px">東京(羽田)</div><div class="t lb" style="right:12px;top:53px">大阪(伊丹)</div>
<div class="t bg" style="left:13px;top:63px">HND</div><svg class="t" style="left:122px;top:68px" width="30" height="30"><use href="#pl" width="30" height="30"/></svg><div class="t bg" style="right:11px;top:63px">ITM</div>
<div class="t lb" style="left:15px;top:104px">便名</div><div class="t lb" style="left:98px;top:104px">出発時刻</div><div class="t lb" style="left:169px;top:104px">運航状況</div><div class="t lb" style="left:238px;top:104px">座席</div>
<div class="t v" style="left:15px;top:116px">ANA013</div><div class="t v" style="left:98px;top:116px">07:00</div><div class="t v" style="left:169px;top:115px;color:#5a72c2">定刻</div><div class="t v" style="right:12px;top:116px">22G</div>
<div class="t lb" style="left:15px;top:150px">搭乗者名</div><div class="t lb" style="left:218px;top:150px">搭乗順</div><div class="t v" style="left:15px;top:159px">ソラノ ハナコ様</div><div class="t v" style="right:12px;top:160px">Group5</div>
<div class="t" style="left:72px;top:243px;font-size:5.5px;color:#555">A STAR ALLIANCE MEMBER ✩</div>
<div class="qb"><svg class="a" style="left:6px;top:6px" width="116" height="114"><use href="#qr" width="116" height="114"/></svg><div class="t" style="left:0;width:128px;text-align:center;top:126px;font-size:10px;color:#222">BN:46</div></div>
<div class="tl"></div>
</div>

<div class="card" style="left:2112px;top:373px">
<svg class="t" style="left:14px;top:13px" width="88" height="22"><text x="0" y="20" font-family="Liberation Sans" font-weight="bold" font-style="italic" font-size="27" fill="#1d3c9c" textLength="55" lengthAdjust="spacingAndGlyphs">ANA</text><polygon points="57,21 67,21 81,1 71,1" fill="#24439f"/><polygon points="68,21 72,21 86,1 82,1" fill="#2aa5e3"/></svg>
<div class="t lb" style="left:200px;top:7px">搭乗日</div><div class="t dt" style="left:170px;top:17px">02APR23</div><div class="t lb" style="left:238px;top:7px">搭乗口</div><div class="t dt" style="left:246px;top:17px">---</div>
<div class="t lb" style="left:15px;top:53px">東京(羽田)</div><div class="t lb" style="right:12px;top:53px">大阪(伊丹)</div>
<div class="t bg" style="left:13px;top:63px">HND</div><svg class="t" style="left:122px;top:68px" width="30" height="30"><use href="#pl" width="30" height="30"/></svg><div class="t bg" style="right:11px;top:63px">ITM</div>
<div class="t lb" style="left:15px;top:104px">便名</div><div class="t lb" style="left:98px;top:104px">出発時刻</div><div class="t lb" style="left:169px;top:104px">運航状況</div><div class="t lb" style="left:238px;top:104px">座席</div>
<div class="t v" style="left:15px;top:116px">ANA013</div><div class="t v" style="left:98px;top:116px">07:00</div><div class="t v" style="left:169px;top:115px;color:#5a72c2">定刻</div><div class="t v" style="right:12px;top:116px">22D</div>
<div class="t lb" style="left:15px;top:150px">搭乗者名</div><div class="t lb" style="left:218px;top:150px">搭乗順</div><div class="t v" style="left:15px;top:159px">ソラノ ハナコ様</div><div class="t v" style="right:12px;top:160px">Group5</div>
<div class="t" style="left:72px;top:243px;font-size:5.5px;color:#555">A STAR ALLIANCE MEMBER ✩</div>
<div class="qb"><svg class="a" style="left:6px;top:6px" width="116" height="114"><use href="#qr" width="116" height="114"/></svg><div class="t" style="left:0;width:128px;text-align:center;top:126px;font-size:10px;color:#222">BN:46</div></div>
<div class="nt" style="left:-6px;background:#fff"></div><div class="nt" style="right:-6px;background:#fff"></div>
</div>

<div class="card" style="left:471px;top:1212px">
<svg class="t" style="left:14px;top:13px" width="88" height="22"><text x="0" y="20" font-family="Liberation Sans" font-weight="bold" font-style="italic" font-size="27" fill="#1d3c9c" textLength="55" lengthAdjust="spacingAndGlyphs">ANA</text><polygon points="57,21 67,21 81,1 71,1" fill="#24439f"/><polygon points="68,21 72,21 86,1 82,1" fill="#2aa5e3"/></svg>
<div class="t lb" style="left:200px;top:7px">搭乗日</div><div class="t dt" style="left:170px;top:17px">02APR23</div><div class="t lb" style="left:238px;top:7px">搭乗口</div><div class="t dt" style="left:246px;top:17px">---</div>
<div class="t lb" style="left:15px;top:53px">東京(羽田)</div><div class="t lb" style="right:12px;top:53px">大阪(伊丹)</div>
<div class="t bg" style="left:13px;top:63px">HND</div><svg class="t" style="left:122px;top:68px" width="30" height="30"><use href="#pl" width="30" height="30"/></svg><div class="t bg" style="right:11px;top:63px">ITM</div>
<div class="t lb" style="left:15px;top:104px">便名</div><div class="t lb" style="left:98px;top:104px">出発時刻</div><div class="t lb" style="left:169px;top:104px">運航状況</div><div class="t lb" style="left:238px;top:104px">座席</div>
<div class="t v" style="left:15px;top:116px">ANA013</div><div class="t v" style="left:98px;top:116px">07:00</div><div class="t v" style="left:169px;top:115px;color:#5a72c2">定刻</div><div class="t v" style="right:12px;top:116px">22D</div>
<div class="t lb" style="left:15px;top:150px">搭乗者名</div><div class="t lb" style="left:218px;top:150px">搭乗順</div><div class="t v" style="left:15px;top:159px">ソラノ ハナコ様</div><div class="t v" style="right:12px;top:160px">Group5</div>
<div class="t" style="left:72px;top:243px;font-size:5.5px;color:#555">A STAR ALLIANCE MEMBER ✩</div>
<div class="qb"><svg class="a" style="left:6px;top:6px" width="116" height="114"><use href="#qr" width="116" height="114"/></svg><div class="t" style="left:0;width:128px;text-align:center;top:126px;font-size:10px;color:#222">BN:46</div></div>
<div class="nt" style="left:-6px;background:#fff"></div><div class="nt" style="right:-6px;background:#fff"></div>
</div>

<div class="card" style="left:1300px;top:1157px;transform:scale(1.358)">
<svg class="t" style="left:14px;top:13px" width="88" height="22"><text x="0" y="20" font-family="Liberation Sans" font-weight="bold" font-style="italic" font-size="27" fill="#1d3c9c" textLength="55" lengthAdjust="spacingAndGlyphs">ANA</text><polygon points="57,21 67,21 81,1 71,1" fill="#24439f"/><polygon points="68,21 72,21 86,1 82,1" fill="#2aa5e3"/></svg>
<div class="t lb" style="left:200px;top:7px">搭乗日</div><div class="t dt" style="left:170px;top:17px">02APR23</div><div class="t lb" style="left:238px;top:7px">搭乗口</div><div class="t dt" style="left:246px;top:17px">---</div>
<div class="t lb" style="left:15px;top:53px">東京(羽田)</div><div class="t lb" style="right:12px;top:53px">大阪(伊丹)</div>
<div class="t bg" style="left:13px;top:63px">HND</div><svg class="t" style="left:122px;top:68px" width="30" height="30"><use href="#pl" width="30" height="30"/></svg><div class="t bg" style="right:11px;top:63px">ITM</div>
<div class="t lb" style="left:15px;top:104px">便名</div><div class="t lb" style="left:98px;top:104px">出発時刻</div><div class="t lb" style="left:169px;top:104px">運航状況</div><div class="t lb" style="left:238px;top:104px">座席</div>
<div class="t v" style="left:15px;top:116px">ANA013</div><div class="t v" style="left:98px;top:116px">07:00</div><div class="t v" style="left:169px;top:115px;color:#5a72c2">定刻</div><div class="t v" style="right:12px;top:116px">22D</div>
<div class="t lb" style="left:15px;top:150px">搭乗者名</div><div class="t lb" style="left:218px;top:150px">搭乗順</div><div class="t v" style="left:15px;top:159px">ソラノ ハナコ様</div><div class="t v" style="right:12px;top:160px">Group5</div>
<div class="t" style="left:72px;top:243px;font-size:5.5px;color:#555">A STAR ALLIANCE MEMBER ✩</div>
<div class="qb"><svg class="a" style="left:6px;top:6px" width="116" height="114"><use href="#qr" width="116" height="114"/></svg><div class="t" style="left:0;width:128px;text-align:center;top:126px;font-size:10px;color:#222">BN:46</div></div>
<div class="tl"></div><div class="nt" style="left:-6px"></div><div class="nt" style="right:-6px"></div>
</div>

<div class="card" style="left:1683px;top:1157px;transform:scale(1.358)">
<svg class="t" style="left:14px;top:13px" width="88" height="22"><text x="0" y="20" font-family="Liberation Sans" font-weight="bold" font-style="italic" font-size="27" fill="#1d3c9c" textLength="55" lengthAdjust="spacingAndGlyphs">ANA</text><polygon points="57,21 67,21 81,1 71,1" fill="#24439f"/><polygon points="68,21 72,21 86,1 82,1" fill="#2aa5e3"/></svg>
<div class="t lb" style="left:200px;top:7px">搭乗日</div><div class="t dt" style="left:170px;top:17px">02APR23</div><div class="t lb" style="left:238px;top:7px">搭乗口</div><div class="t dt" style="left:246px;top:17px">---</div>
<div class="t lb" style="left:15px;top:53px">東京(羽田)</div><div class="t lb" style="right:12px;top:53px">大阪(伊丹)</div>
<div class="t bg" style="left:13px;top:63px">HND</div><svg class="t" style="left:122px;top:68px" width="30" height="30"><use href="#pl" width="30" height="30"/></svg><div class="t bg" style="right:11px;top:63px">ITM</div>
<div class="t lb" style="left:15px;top:104px">便名</div><div class="t lb" style="left:98px;top:104px">出発時刻</div><div class="t lb" style="left:169px;top:104px">運航状況</div><div class="t lb" style="left:238px;top:104px">座席</div>
<div class="t v" style="left:15px;top:116px">ANA013</div><div class="t v" style="left:98px;top:116px">07:00</div><div class="t v" style="left:169px;top:115px;color:#5a72c2">定刻</div><div class="t v" style="right:12px;top:116px">22G</div>
<div class="t lb" style="left:15px;top:150px">搭乗者名</div><div class="t lb" style="left:218px;top:150px">搭乗順</div><div class="t v" style="left:15px;top:159px">ソラノ ハナコ様</div><div class="t v" style="right:12px;top:160px">Group5</div>
<div class="t" style="left:72px;top:243px;font-size:5.5px;color:#555">A STAR ALLIANCE MEMBER ✩</div>
<div class="qb"><svg class="a" style="left:6px;top:6px" width="116" height="114"><use href="#qr" width="116" height="114"/></svg><div class="t" style="left:0;width:128px;text-align:center;top:126px;font-size:10px;color:#222">BN:46</div></div>
<div class="tl"></div><div class="nt" style="left:-6px"></div><div class="nt" style="right:-6px"></div>
</div>

<!-- BIG BUTTONS -->
<div class="btn bl" style="left:1360px;top:1722px;width:251px">新しい搭乗券</div>
<div class="btn gr" style="left:1746px;top:1722px;width:253px;height:63px">古い搭乗券</div>

<!-- P2 MENU -->
<div class="a" style="left:935px;top:359px;width:240px;height:135px;background:#f4f4f6;border-radius:12px;box-shadow:0 4px 18px rgba(0,0,0,.18);overflow:hidden">
 <div class="t" style="left:14px;top:15px;font-size:14px;color:#111">パスの詳細</div>
 <svg class="a" style="left:212px;top:13px" width="18" height="18"><circle cx="9" cy="9" r="7.5" fill="none" stroke="#222" stroke-width="1.5"/><rect x="8.2" y="7.5" width="1.6" height="6" fill="#222"/><circle cx="9" cy="5.2" r="1" fill="#222"/></svg>
 <div class="a" style="left:0;top:43px;width:240px;height:1px;background:#d5d5d8"></div>
 <div class="t" style="left:14px;top:58px;font-size:14px;color:#111">通知</div>
 <svg class="a" style="left:212px;top:55px" width="18" height="20"><path d="M4 14 V9 Q4 3 9 3 Q14 3 14 9 V14 L16 16 H2 Z M7 17 Q9 20 11 17" fill="none" stroke="#222" stroke-width="1.5"/><circle cx="14" cy="4" r="2" fill="#222"/></svg>
 <div class="a" style="left:0;top:85px;width:240px;height:5px;background:#dfdfe3"></div>
</div>
<div class="hl" style="left:922px;top:449px;width:265px;height:49px;border-radius:8px"></div>
<div class="t" style="left:949px;top:466px;font-size:14px;color:#9aa3c4">パスを削除</div>
<svg class="a" style="left:1150px;top:464px" width="18" height="18"><circle cx="9" cy="9" r="7.5" fill="none" stroke="#9aa3c4" stroke-width="1.5"/><rect x="5" y="8.2" width="8" height="1.6" fill="#9aa3c4"/></svg>

<!-- P3 SHEET -->
<div class="a" style="left:1280px;top:803px;width:296px;height:75px;background:#dcdde1;border-radius:14px"></div>
<div class="a" style="left:1294px;top:823px;width:265px;height:50px;background:#8fd4ee;border-radius:10px"></div>
<div class="t" style="left:1294px;width:265px;text-align:center;top:851px;font-size:12px;color:#c690b0">削除</div>
<div class="a" style="left:1280px;top:886px;width:296px;height:42px;background:#f5f5f7;border-radius:14px"></div>
<div class="btn gr" style="left:1304px;top:882px;width:250px;height:63px">古い搭乗券</div>

<!-- OVERLAY -->
<svg class="a ov" style="left:0;top:0" width="2501" height="1858">
<g fill="none" stroke="#001468" stroke-width="12">
 <path d="M797 574 L833 614 L797 654"/>
 <path d="M1208 574 L1244 614 L1208 654"/>
 <path d="M1620 574 L1656 614 L1620 654"/>
 <path d="M2032 574 L2068 614 L2032 654"/>
 <path d="M797 1348 L833 1388 L797 1428"/>
 <path d="M1204 1348 L1240 1388 L1204 1428"/>
</g>
<g fill="none" stroke="#001468" stroke-width="5">
 <path d="M276 816 V616 H422"/>
 <path d="M240 1134 V1455 H421"/>
</g>
<g fill="#001468">
 <polygon points="438,616 419,606 419,626"/>
 <polygon points="437,1455 418,1445 418,1465"/>
</g>
<rect x="67" y="642" width="343" height="59" rx="8" fill="#001468"/>
<text x="238.5" y="681" font-size="29" fill="#fff" text-anchor="middle" textLength="174" lengthAdjust="spacingAndGlyphs">搭乗券再発行</text>

<g fill="#fff" stroke="#001468" stroke-width="5" stroke-linejoin="round">
 <path d="M37.5 816.5 H515.5 Q523.5 816.5 523.5 824.5 V856.5 Q523.5 864.5 515.5 864.5 H440 L291 891 L323 864.5 H37.5 Q29.5 864.5 29.5 856.5 V824.5 Q29.5 816.5 37.5 816.5 Z"/>
 <path d="M56.5 1089.5 H272 L306 1069 L365 1089.5 H421.5 Q429.5 1089.5 429.5 1097.5 V1123.5 Q429.5 1131.5 421.5 1131.5 H56.5 Q48.5 1131.5 48.5 1123.5 V1097.5 Q48.5 1089.5 56.5 1089.5 Z"/>
 <path d="M582.5 312.5 H689.5 Q697.5 312.5 697.5 320.5 V343 L724 336 L697.5 358 V359.5 Q697.5 367.5 689.5 367.5 H582.5 Q574.5 367.5 574.5 359.5 V320.5 Q574.5 312.5 582.5 312.5 Z"/>
 <path d="M958.5 513.5 H982 L1012 495 L1031 513.5 H1140.5 Q1148.5 513.5 1148.5 521.5 V554.5 Q1148.5 562.5 1140.5 562.5 H958.5 Q950.5 562.5 950.5 554.5 V521.5 Q950.5 513.5 958.5 513.5 Z"/>
 <path d="M1334.5 779.5 H1514.5 Q1522.5 779.5 1522.5 787.5 V819.5 Q1522.5 827.5 1514.5 827.5 H1399 L1378 841 L1357 827.5 H1334.5 Q1326.5 827.5 1326.5 819.5 V787.5 Q1326.5 779.5 1334.5 779.5 Z"/>
 <path d="M1722.5 525.5 H1757 L1787 505 L1820 525.5 H1964.5 Q1980.5 525.5 1980.5 541.5 V609.5 Q1980.5 625.5 1964.5 625.5 H1722.5 Q1706.5 625.5 1706.5 609.5 V541.5 Q1706.5 525.5 1722.5 525.5 Z"/>
 <path d="M2279.5 346.5 H2347 L2363 337 L2383 346.5 H2388.5 Q2396.5 346.5 2396.5 354.5 V393.5 Q2396.5 401.5 2388.5 401.5 H2279.5 Q2271.5 401.5 2271.5 393.5 V354.5 Q2271.5 346.5 2279.5 346.5 Z"/>
 <path d="M642.5 1195.5 H707 L725 1187 L745 1195.5 H749.5 Q757.5 1195.5 757.5 1203.5 V1244.5 Q757.5 1252.5 749.5 1252.5 H642.5 Q634.5 1252.5 634.5 1244.5 V1203.5 Q634.5 1195.5 642.5 1195.5 Z"/>
</g>
<text x="270" y="849" font-size="26" fill="#001468" text-anchor="middle" textLength="435" lengthAdjust="spacingAndGlyphs">Appleウォレットから削除する（推奨）</text>
<text x="238" y="1117" font-size="25" fill="#001468" text-anchor="middle" textLength="297" lengthAdjust="spacingAndGlyphs">削除せずそのまま追加する</text>
<text x="636" y="344" font-size="24" fill="#001468" text-anchor="middle" textLength="67" lengthAdjust="spacingAndGlyphs">タップ</text>
<text x="1050" y="547" font-size="27" fill="#d4001a" text-anchor="middle" textLength="120" lengthAdjust="spacingAndGlyphs">パスを削除</text>
<text x="1421" y="813" font-size="26" fill="#d4001a" text-anchor="middle" textLength="48" lengthAdjust="spacingAndGlyphs">削除</text>
<text x="2334" y="378" font-size="23" fill="#001468" text-anchor="middle" textLength="45" lengthAdjust="spacingAndGlyphs">追加</text>
<text x="696" y="1229" font-size="23" fill="#001468" text-anchor="middle" textLength="46" lengthAdjust="spacingAndGlyphs">追加</text>

<rect x="1718" y="535" width="249" height="80" rx="12" fill="#000"/>
<use href="#wal" x="1732" y="553" width="57" height="44"/>
<text x="1800" y="570" font-size="23" fill="#fff" textLength="153" lengthAdjust="spacingAndGlyphs">Appleウォレット</text>
<text x="1800" y="596" font-size="16" fill="#fff" textLength="47" lengthAdjust="spacingAndGlyphs">に追加</text>

<g stroke="#001468" stroke-width="5" fill="#d6e6f0" stroke-linejoin="round">
 <path d="M644 500.3 L677 499 L671 532.5 A68 68 0 1 1 644 500.3 Z"/>
 <path d="M2301 513.3 L2334 512 L2328 545.5 A68 68 0 1 1 2301 513.3 Z"/>
 <path d="M656 1346.3 L689 1345 L683 1378.5 A68 68 0 1 1 656 1346.3 Z"/>
 <path d="M1554 1354.3 L1587 1353 L1581 1386.5 A68 68 0 1 1 1554 1354.3 Z"/>
 <path d="M1937 1348.3 L1970 1347 L1964 1380.5 A68 68 0 1 1 1937 1348.3 Z"/>
</g>
<g font-size="21" fill="#1a1a1a" text-anchor="middle">
 <text x="599" y="549">座席</text>
 <text x="2256" y="562">座席</text>
 <text x="611" y="1393">座席</text>
 <text x="1509" y="1402" font-size="23">座席</text>
 <text x="1892" y="1396" font-size="23">座席</text>
</g>
<g fill="#1d2b88" text-anchor="middle">
 <text class="n" x="610" y="580" font-size="34">22G</text>
 <text class="n" x="2267" y="594" font-size="35">22D</text>
 <text class="n" x="623" y="1427" font-size="35">22D</text>
 <text class="n" x="1521" y="1434" font-size="37">22D</text>
 <text class="n" x="1903" y="1428" font-size="37">22G</text>
</g>

<path d="M964.1 1185.7 L940 1180 L947.3 1204 A68 68 0 1 0 964.1 1185.7 Z" fill="#fff" stroke="#001468" stroke-width="5" stroke-linejoin="round"/>
<rect x="962" y="1193" width="90" height="91" rx="20" fill="#1f1f1f"/>
<use href="#wal" x="972" y="1212" width="71" height="54"/>
</svg>

</div></body></html>
